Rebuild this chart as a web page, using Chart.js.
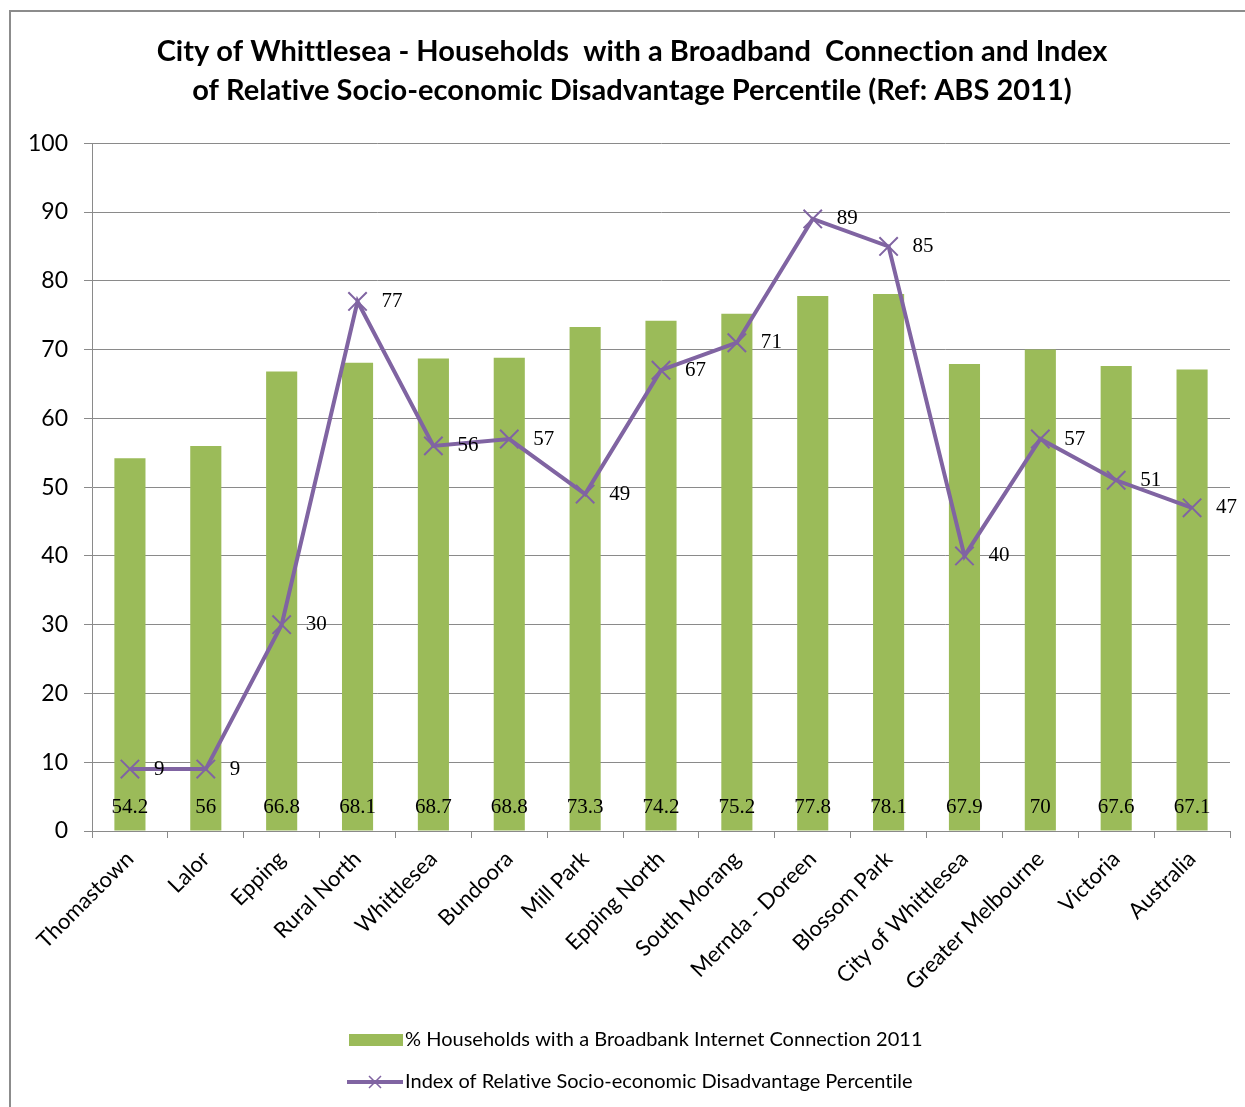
<!DOCTYPE html>
<html>
<head>
<meta charset="utf-8">
<script src="https://cdn.jsdelivr.net/npm/chart.js@4.4.1/dist/chart.umd.min.js"></script>
<style>
  html, body { margin: 0; padding: 0; background: #fff; }
  #wrap { position: relative; width: 1245px; height: 1107px; overflow: hidden; }
  #frame { position: absolute; left: 9px; top: 10px; width: 1250px; height: 1110px; border: 2px solid #8c8c8c; box-sizing: border-box; }
  #broadband { position: absolute; left: 0; top: 0; }
</style>
</head>
<body>
<div id="wrap">
  <div id="frame"></div>
  <canvas id="broadband" width="1245" height="1107"></canvas>
</div>
<script>
// 資料
const areas = ['Thomastown', 'Lalor', 'Epping', 'Rural North', 'Whittlesea', 'Bundoora', 'Mill Park',
  'Epping North', 'South Morang', 'Mernda - Doreen', 'Blossom Park', 'City of Whittlesea',
  'Greater Melbourne', 'Victoria', 'Australia'];
const broadbandPct = [54.2, 56, 66.8, 68.1, 68.7, 68.8, 73.3, 74.2, 75.2, 77.8, 78.1, 67.9, 70, 67.6, 67.1];
const disadvantagePct = [9, 9, 30, 77, 56, 57, 49, 67, 71, 89, 85, 40, 57, 51, 47];
const yTicks = [0, 10, 20, 30, 40, 50, 60, 70, 80, 90, 100];

const barLabel = '% Households with a Broadbank Internet Connection 2011';
const lineLabel = 'Index of Relative Socio-economic Disadvantage Percentile';

const GREEN = '#9bbb59';
const PURPLE = '#8064a2';
const GRID = '#8a8a8a';
const SANS = 'Lato, "Open Sans", sans-serif';
const SERIF = '"Liberation Serif", serif';

// 關掉 Lato 的 "ti" 連字
const noLigatures = {
  id: 'noLigatures',
  beforeDraw(chart) { chart.ctx.letterSpacing = '0.01px'; }
};

// 標題置中於整張圖 (含左側留白)
const titleShift = {
  id: 'titleShift',
  afterLayout(chart) {
    if (chart.titleBlock) {
      chart.titleBlock.left = 34;
      chart.titleBlock.right = 1230;
    }
  }
};

// 數值標籤
const valueLabels = {
  id: 'valueLabels',
  afterDatasetsDraw(chart) {
    const ctx = chart.ctx;
    ctx.save();
    ctx.fillStyle = '#000';
    ctx.font = '21px ' + SERIF;
    ctx.textBaseline = 'middle';

    const yZero = chart.scales.y.getPixelForValue(0);
    chart.getDatasetMeta(1).data.forEach((bar, i) => {
      ctx.textAlign = 'center';
      ctx.fillText(String(broadbandPct[i]), bar.x, yZero - 24);
    });
    chart.getDatasetMeta(0).data.forEach((pt, i) => {
      ctx.textAlign = 'left';
      ctx.fillText(String(disadvantagePct[i]), pt.x + 24, pt.y);
    });
    ctx.restore();
  }
};

// 自訂圖例 (Excel 樣式)
const excelLegend = {
  id: 'excelLegend',
  afterDraw(chart) {
    const ctx = chart.ctx;
    ctx.save();
    ctx.font = '20px ' + SANS;
    ctx.textBaseline = 'middle';
    ctx.textAlign = 'left';

    ctx.fillStyle = GREEN;
    ctx.fillRect(349, 1034, 54, 12);
    ctx.fillStyle = '#000';
    ctx.fillText(barLabel, 405, 1040);

    ctx.strokeStyle = PURPLE;
    ctx.lineWidth = 4;
    ctx.beginPath();
    ctx.moveTo(347, 1082);
    ctx.lineTo(403, 1082);
    ctx.stroke();
    ctx.lineWidth = 1.5;
    ctx.beginPath();
    ctx.moveTo(369, 1076); ctx.lineTo(381, 1088);
    ctx.moveTo(381, 1076); ctx.lineTo(369, 1088);
    ctx.stroke();
    ctx.fillText(lineLabel, 405, 1082);
    ctx.restore();
  }
};

new Chart(document.getElementById('broadband'), {
  data: {
    labels: areas,
    datasets: [
      {
        type: 'line',
        label: lineLabel,
        data: disadvantagePct,
        borderColor: PURPLE,
        backgroundColor: PURPLE,
        borderWidth: 4,
        tension: 0,
        pointStyle: 'crossRot',
        pointRadius: 13,
        pointHoverRadius: 13,
        pointBorderWidth: 2,
        pointBorderColor: PURPLE,
        order: 0
      },
      {
        type: 'bar',
        label: barLabel,
        data: broadbandPct,
        backgroundColor: GREEN,
        barPercentage: 0.41,
        categoryPercentage: 1,
        order: 1
      }
    ]
  },
  options: {
    responsive: false,
    animation: false,
    devicePixelRatio: 1,
    layout: { padding: { left: 0, right: 15, top: 0, bottom: 0 } },
    plugins: {
      legend: { display: false },
      tooltip: { enabled: false },
      title: {
        display: true,
        text: ['City of Whittlesea - Households  with a Broadband  Connection and Index',
               'of Relative Socio-economic Disadvantage Percentile (Ref: ABS 2011)'],
        color: '#000',
        font: { family: SANS, size: 29, weight: 'bold', lineHeight: 1.35 },
        padding: { top: 32, bottom: 33 }
      }
    },
    scales: {
      x: {
        grid: { display: true, drawOnChartArea: false, offset: true, color: GRID, tickLength: 7 },
        border: { color: GRID, width: 1 },
        ticks: {
          color: '#000',
          font: { family: SANS, size: 22 },
          maxRotation: 45,
          minRotation: 45,
          autoSkip: false,
          padding: 8
        },
        afterFit(scale) { scale.height = 276; }
      },
      y: {
        min: 0,
        max: 100,
        afterBuildTicks(scale) { scale.ticks = yTicks.map(v => ({ value: v })); },
        grid: { color: GRID, tickLength: 8 },
        border: { color: GRID, width: 1 },
        ticks: { color: '#000', font: { family: SANS, size: 23 }, padding: 16 },
        afterFit(scale) { scale.width = 92; }
      }
    }
  },
  plugins: [noLigatures, titleShift, valueLabels, excelLegend]
});
</script>
</body>
</html>
